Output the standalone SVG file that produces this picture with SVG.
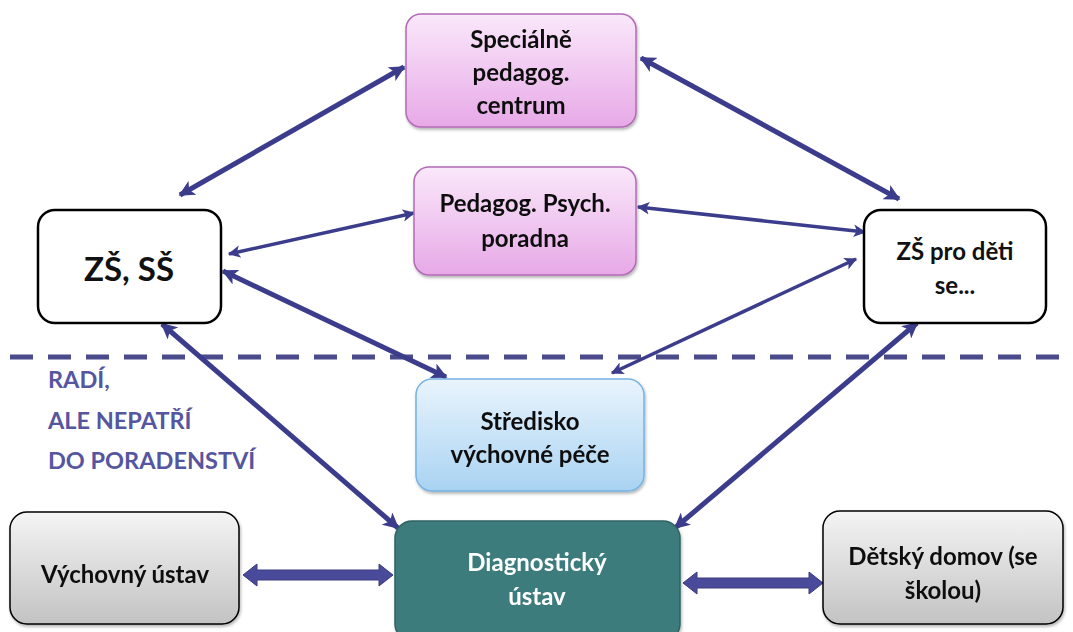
<svg xmlns="http://www.w3.org/2000/svg" width="1073" height="632" viewBox="0 0 1073 632">
<style>
.t{font-family:Lato,"Open Sans","Liberation Sans",sans-serif;font-weight:bold;font-size:24px;fill:#111;text-anchor:middle}
.big{font-size:33px}
.w{fill:#fff}
.note{font-family:Lato,"Open Sans","Liberation Sans",sans-serif;font-weight:bold;font-size:23.5px;fill:#5656a0}
.c{fill:none;stroke:#3c3c8c;stroke-linecap:butt}
.thick{stroke-width:5}
.thin{stroke-width:3.5}
</style>
<defs>
<linearGradient id="gPink" x1="0" y1="0" x2="0" y2="1"><stop offset="0" stop-color="#fae8fa"/><stop offset="1" stop-color="#e7a9e7"/></linearGradient>
<linearGradient id="gBlue" x1="0" y1="0" x2="0" y2="1"><stop offset="0" stop-color="#e9f4fd"/><stop offset="1" stop-color="#a9d3f2"/></linearGradient>
<linearGradient id="gGray" x1="0" y1="0" x2="0" y2="1"><stop offset="0" stop-color="#f4f4f4"/><stop offset="1" stop-color="#c3c3c3"/></linearGradient>
<filter id="sh" x="-10%" y="-10%" width="120%" height="130%"><feDropShadow dx="1" dy="2" stdDeviation="1.5" flood-color="#000" flood-opacity="0.3"/></filter>
<marker id="ah" viewBox="0 0 10 10" refX="9" refY="5" markerWidth="3.2" markerHeight="3.2" orient="auto-start-reverse" markerUnits="strokeWidth"><path d="M0,0 L10,5 L0,10 L2.5,5 Z" fill="#3c3c8c"/></marker>
<marker id="ahs" viewBox="0 0 10 10" refX="9" refY="5" markerWidth="3.6" markerHeight="3.6" orient="auto-start-reverse" markerUnits="strokeWidth"><path d="M0,0 L10,5 L0,10 L2.5,5 Z" fill="#3c3c8c"/></marker>
</defs>
<rect width="1073" height="632" fill="#fff"/>

<g id="divider">
<line x1="10" y1="357" x2="1062" y2="357" stroke="#4b4b8c" stroke-width="5" stroke-dasharray="23,15"/>
</g>

<g id="connectors">
<line class="c thick" x1="404" y1="67" x2="180" y2="195" marker-start="url(#ah)" marker-end="url(#ah)"/>
<line class="c thick" x1="641" y1="58" x2="899" y2="199" marker-start="url(#ah)" marker-end="url(#ah)"/>
<line class="c thin" x1="414" y1="213" x2="229" y2="254" marker-start="url(#ahs)" marker-end="url(#ahs)"/>
<line class="c thin" x1="638" y1="207" x2="865" y2="232" marker-start="url(#ahs)" marker-end="url(#ahs)"/>
<line class="c thick" x1="223" y1="271" x2="446" y2="377" marker-start="url(#ah)" marker-end="url(#ah)"/>
<line class="c thin" x1="856" y1="259" x2="612" y2="373" marker-start="url(#ahs)" marker-end="url(#ahs)"/>
<line class="c thick" x1="162" y1="324" x2="398" y2="528" marker-start="url(#ah)" marker-end="url(#ah)"/>
<line class="c thick" x1="917" y1="323" x2="675" y2="528" marker-start="url(#ah)" marker-end="url(#ah)"/>
<path d="M243,575 L257,564 L257,570 L379,570 L379,564 L393,575 L379,586 L379,580 L257,580 L257,586 Z" fill="#4a4a9a" stroke="#3a3a80" stroke-width="1"/>
<path d="M683,583 L697,572 L697,578 L809,578 L809,572 L823,583 L809,594 L809,588 L697,588 L697,594 Z" fill="#4a4a9a" stroke="#3a3a80" stroke-width="1"/>
</g>

<g id="spc" filter="url(#sh)">
<rect x="406" y="14" width="230" height="113" rx="15" fill="url(#gPink)" stroke="#b36bb6" stroke-width="1.5"/>
<text class="t" x="521" y="48">Speciálně</text>
<text class="t" x="521" y="81">pedagog.</text>
<text class="t" x="521" y="114">centrum</text>
</g>

<g id="ppp" filter="url(#sh)">
<rect x="414" y="167" width="222" height="108" rx="15" fill="url(#gPink)" stroke="#b36bb6" stroke-width="1.5"/>
<text class="t" x="525" y="212">Pedagog. Psych.</text>
<text class="t" x="525" y="247">poradna</text>
</g>

<g id="zsss">
<rect x="38" y="210" width="183" height="113" rx="17" fill="#fff" stroke="#000" stroke-width="2.5"/>
<text class="t big" x="129" y="281">ZŠ, SŠ</text>
</g>

<g id="zspro">
<rect x="864" y="210" width="182" height="113" rx="17" fill="#fff" stroke="#000" stroke-width="2.5"/>
<text class="t" x="955" y="260">ZŠ pro děti</text>
<text class="t" x="955" y="294">se...</text>
</g>

<g id="note">
<text class="note" x="48" y="388">RADÍ,</text>
<text class="note" x="48" y="429">ALE NEPATŘÍ</text>
<text class="note" x="48" y="469">DO PORADENSTVÍ</text>
</g>

<g id="svp" filter="url(#sh)">
<rect x="416" y="379" width="228" height="112" rx="16" fill="url(#gBlue)" stroke="#75b3e3" stroke-width="1.5"/>
<text class="t" x="530" y="430">Středisko</text>
<text class="t" x="530" y="463">výchovné péče</text>
</g>

<g id="diag" filter="url(#sh)">
<rect x="395" y="521" width="285" height="120" rx="17" fill="#3e7b7c" stroke="#2f6364" stroke-width="1.5"/>
<text class="t w" x="537" y="571">Diagnostický</text>
<text class="t w" x="537" y="605">ústav</text>
</g>

<g id="vu" filter="url(#sh)">
<rect x="10" y="512" width="229" height="112" rx="17" fill="url(#gGray)" stroke="#000" stroke-width="1.5"/>
<text class="t" x="125" y="583">Výchovný ústav</text>
</g>

<g id="dd" filter="url(#sh)">
<rect x="823" y="511" width="240" height="113" rx="17" fill="url(#gGray)" stroke="#000" stroke-width="1.5"/>
<text class="t" x="943" y="565">Dětský domov (se</text>
<text class="t" x="943" y="599">školou)</text>
</g>
</svg>
